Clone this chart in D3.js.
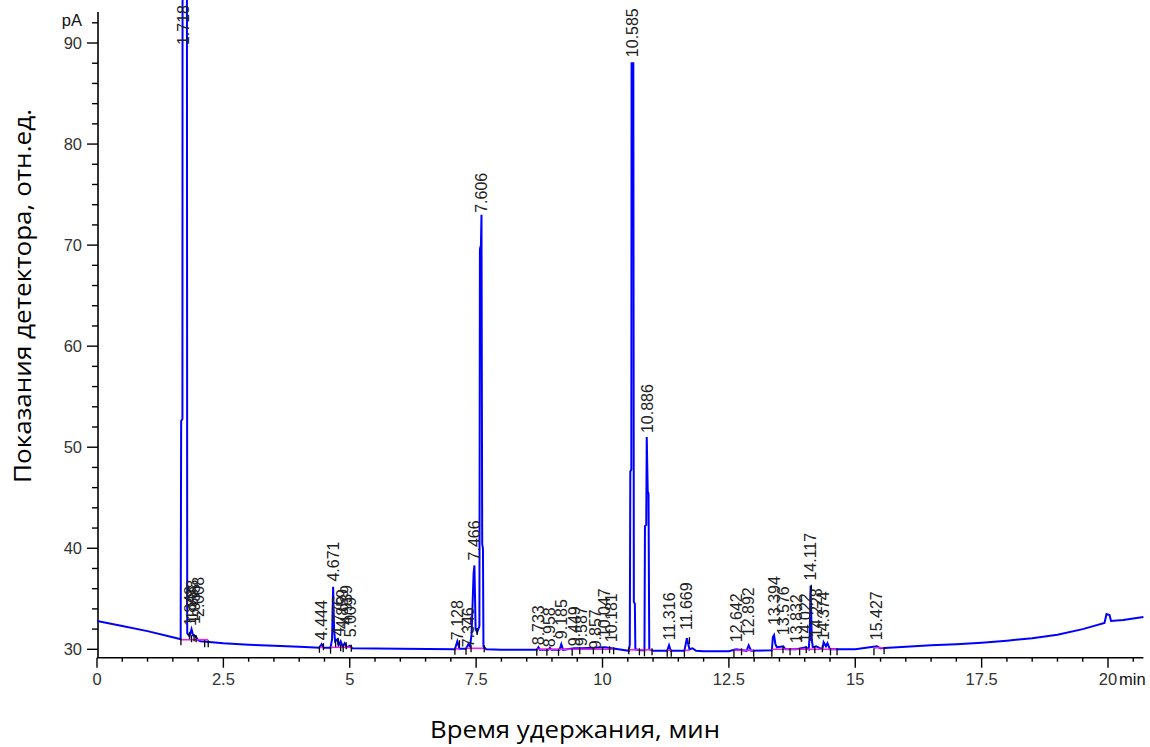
<!DOCTYPE html>
<html>
<head>
<meta charset="utf-8">
<script src="https://cdn.jsdelivr.net/npm/d3@7"></script>
<style>
    body { margin: 0; background: #fff; }
    #chart { width: 1150px; height: 747px; }
    text { font-family: "Liberation Sans", Arial, sans-serif; }
    .title { font-family: "Open Sans", "Noto Sans", sans-serif; }
</style>
</head>
<body>
<div id="chart"></div>
<script>
// retention time (min) / detector signal (pA)
const trace = [
    [0, 32.8], [0.5, 32.3], [1.0, 31.8], [1.5, 31.2], [1.655, 31.0],
    [1.665, 52.6], [1.69, 52.8], [1.695, 140], [1.775, 140], [1.785, 31.6],
    [1.83, 31.3], [1.87, 32.0], [1.9, 31.4], [1.95, 31.3], [2.0, 30.9], [2.05, 30.8],
    [2.5, 30.6], [3.0, 30.45], [3.5, 30.35], [4.0, 30.25], [4.40, 30.15],
    [4.444, 30.5], [4.48, 30.15], [4.62, 30.15], [4.65, 31.0], [4.671, 36.2],
    [4.69, 32.0], [4.71, 30.8], [4.76, 31.0], [4.78, 30.4], [4.82, 30.8],
    [4.86, 30.3], [4.90, 30.6], [4.94, 30.2], [5.0, 30.35], [5.05, 30.1],
    [6.0, 30.05], [7.08, 30.0], [7.128, 30.8], [7.17, 30.05], [7.3, 30.05],
    [7.346, 30.5], [7.38, 30.3], [7.41, 31.5], [7.45, 37.5], [7.466, 38.3],
    [7.49, 32.0], [7.52, 31.7], [7.565, 32.3], [7.575, 69.6], [7.595, 70.0],
    [7.606, 73.0], [7.62, 40.4], [7.635, 40.0], [7.645, 30.3], [7.7, 30.0],
    [8.0, 29.95], [8.70, 29.95], [8.733, 30.2], [8.76, 29.95], [8.93, 29.95],
    [8.958, 30.15], [8.99, 29.95], [9.15, 29.95], [9.185, 30.5], [9.22, 29.95],
    [9.449, 30.1], [9.587, 30.1], [9.857, 30.15], [10.047, 30.2], [10.181, 30.1],
    [10.52, 29.85], [10.54, 30.5], [10.55, 47.6], [10.57, 47.8], [10.575, 88.0],
    [10.61, 88.0], [10.62, 34.7], [10.64, 34.5], [10.65, 30.0], [10.75, 29.9],
    [10.83, 29.9], [10.84, 42.2], [10.865, 42.3], [10.875, 51.0], [10.895, 45.6],
    [10.91, 45.4], [10.925, 30.0], [11.0, 29.85], [11.28, 29.85], [11.316, 30.4],
    [11.35, 29.85], [11.62, 29.85], [11.669, 31.1], [11.72, 30.0], [11.78, 30.1],
    [11.85, 29.85], [12.0, 29.8], [12.5, 29.8], [12.642, 30.0], [12.85, 29.85],
    [12.892, 30.4], [12.94, 29.85], [13.35, 29.9], [13.37, 31.2], [13.394, 31.4],
    [13.42, 30.5], [13.45, 30.2], [13.576, 30.3], [13.62, 30.0], [13.832, 30.0],
    [14.022, 30.2], [14.08, 30.0], [14.10, 31.5], [14.117, 36.3], [14.14, 31.0],
    [14.16, 30.2], [14.228, 30.3], [14.35, 30.0], [14.374, 30.7], [14.42, 30.3],
    [14.45, 30.6], [14.5, 30.0], [15.0, 30.0], [15.427, 30.3], [15.5, 30.1],
    [16.0, 30.25], [16.5, 30.4], [17.0, 30.5], [17.5, 30.65], [18.0, 30.85],
    [18.5, 31.1], [19.0, 31.45], [19.5, 32.0], [19.93, 32.6], [19.97, 33.5],
    [20.03, 33.4], [20.06, 32.8], [20.3, 32.9], [20.7, 33.2]
];

// peak labels: retention time and the signal level where the label starts
const peakTimes  = [1.718, 1.848, 1.888, 1.935, 2.008, 4.444, 4.671, 4.776, 4.859, 4.939, 5.009,
                    7.128, 7.346, 7.466, 7.606, 8.733, 8.958, 9.185, 9.449, 9.587, 9.857, 10.047, 10.181,
                    10.585, 10.886, 11.316, 11.669, 12.642, 12.892, 13.394, 13.576, 13.832, 14.022,
                    14.117, 14.228, 14.374, 15.427];
const peakBase   = [89.8, 32.3, 32.9, 32.5, 33.2, 30.9, 36.7, 31.3, 32.0, 32.4, 31.2,
                    30.9, 30.2, 38.8, 73.2, 30.4, 30.2, 31.0, 30.3, 30.3, 30.0, 31.2, 30.7,
                    88.6, 51.4, 30.9, 31.9, 30.7, 31.3, 32.4, 31.4, 30.6, 30.7,
                    36.8, 31.2, 30.9, 30.9];

// integration baselines (start, end, level) and peak boundary marks
const integration = [[1.66, 2.2, 30.95], [4.40, 4.48, 30.2], [4.62, 5.03, 30.2], [7.08, 7.17, 30.05],
                     [7.30, 7.66, 30.1], [8.70, 10.22, 30.0], [10.52, 10.98, 29.95], [11.28, 11.36, 29.9],
                     [11.62, 11.72, 29.9], [12.60, 12.99, 29.9], [13.35, 14.64, 30.0], [15.37, 15.57, 30.15]];
const marks = [1.66, 1.83, 1.87, 1.92, 1.96, 2.13, 2.20, 4.40, 4.48, 4.62, 4.72, 4.77, 4.82, 4.87,
               4.93, 5.03, 7.08, 7.17, 7.30, 7.40, 7.52, 7.66, 8.70, 8.90, 9.13, 9.40, 9.55, 9.82,
               10.00, 10.14, 10.22, 10.52, 10.73, 10.83, 10.98, 11.28, 11.36, 11.62, 11.72, 12.60,
               12.75, 12.99, 13.35, 13.57, 13.71, 13.90, 14.03, 14.13, 14.20, 14.35, 14.51, 14.64,
               15.37, 15.57];

const xMajor = [0, 2.5, 5, 7.5, 10, 12.5, 15, 17.5, 20];
const yMajor = [30, 40, 50, 60, 70, 80, 90];

class Chromatogram {
    constructor(parentElement) {
        this.parentElement = parentElement;
        this.initVis();
    }

    initVis() {
        let vis = this;
        vis.svg = d3.select("#" + vis.parentElement).append("svg")
            .attr("width", 1150)
            .attr("height", 747);

        vis.x = d3.scaleLinear().domain([0, 20.7]).range([97, 1143.4]);
        vis.y = d3.scaleLinear().domain([29.17, 93.07]).range([657.7, 12]);

        vis.svg.append("clipPath").attr("id", "plot-clip")
            .append("rect")
            .attr("x", 97).attr("y", 0)
            .attr("width", 1050).attr("height", 657);

        vis.drawAxes();
        vis.drawTrace();
        vis.drawLabels();
    }

    drawAxes() {
        let vis = this;

        // x axis: minor ticks every 0.5 min, labelled every 2.5
        let xAxis = vis.svg.append("g").attr("transform", `translate(0, ${vis.y.range()[0]})`);
        xAxis.append("line")
            .attr("x1", vis.x(0)).attr("x2", vis.x(20.7))
            .attr("stroke", "#000").attr("stroke-width", 1.6);
        xAxis.selectAll(".minor")
            .data(d3.range(0, 20.6, 0.5))
            .enter().append("line")
            .attr("x1", d => vis.x(d)).attr("x2", d => vis.x(d))
            .attr("y1", 0).attr("y2", d => xMajor.includes(d) ? 10 : 4)
            .attr("stroke", "#000").attr("stroke-width", 1.4);
        xAxis.selectAll(".lab")
            .data(xMajor)
            .enter().append("text")
            .attr("x", d => vis.x(d)).attr("y", 27)
            .attr("text-anchor", "middle")
            .attr("font-size", 16.5)
            .attr("fill", "#333")
            .text(d => d);
        xAxis.append("text")
            .attr("x", vis.x(20) + 11).attr("y", 27)
            .attr("font-size", 16.5).attr("fill", "#111")
            .text("min");

        // y axis: minor ticks every 2 pA, labelled every 10
        let yAxis = vis.svg.append("g").attr("transform", `translate(${vis.x(0) + 1}, 0)`);
        yAxis.append("line")
            .attr("y1", vis.y.range()[0]).attr("y2", vis.y(93.07))
            .attr("stroke", "#000").attr("stroke-width", 1.6);
        yAxis.selectAll(".minor")
            .data(d3.range(30, 93, 2))
            .enter().append("line")
            .attr("y1", d => vis.y(d)).attr("y2", d => vis.y(d))
            .attr("x1", d => yMajor.includes(d) ? -11 : -6).attr("x2", 0)
            .attr("stroke", "#000").attr("stroke-width", 1.4);
        yAxis.selectAll(".lab")
            .data(yMajor)
            .enter().append("text")
            .attr("x", -16).attr("y", d => vis.y(d))
            .attr("dy", "0.35em")
            .attr("text-anchor", "end")
            .attr("font-size", 16.5)
            .attr("fill", "#333")
            .text(d => d);
        yAxis.append("text")
            .attr("x", -16).attr("y", vis.y(92))
            .attr("dy", "0.2em")
            .attr("text-anchor", "end")
            .attr("font-size", 16.5).attr("fill", "#111")
            .text("pA");

        // axis titles
        vis.svg.append("text")
            .attr("class", "title")
            .attr("transform", "translate(31, 296) rotate(-90)")
            .attr("text-anchor", "middle")
            .attr("font-size", 24)
            .attr("textLength", 374)
            .attr("lengthAdjust", "spacingAndGlyphs")
            .text("Показания детектора, отн.ед.");
        vis.svg.append("text")
            .attr("class", "title")
            .attr("x", 575).attr("y", 738)
            .attr("text-anchor", "middle")
            .attr("font-size", 24)
            .attr("textLength", 290)
            .attr("lengthAdjust", "spacingAndGlyphs")
            .text("Время удержания, мин");
    }

    drawTrace() {
        let vis = this;
        let plot = vis.svg.append("g").attr("clip-path", "url(#plot-clip)");

        let line = d3.line()
            .x(d => vis.x(d[0]))
            .y(d => vis.y(d[1]));

        plot.append("path")
            .datum(trace)
            .attr("d", line)
            .attr("fill", "none")
            .attr("stroke", "#0000ff")
            .attr("stroke-width", 2)
            .attr("stroke-linejoin", "miter");

        plot.selectAll(".integ")
            .data(integration)
            .enter().append("line")
            .attr("x1", d => vis.x(d[0])).attr("x2", d => vis.x(d[1]))
            .attr("y1", d => vis.y(d[2])).attr("y2", d => vis.y(d[2]))
            .attr("stroke", "#ee22ee")
            .attr("stroke-width", 1.6);

        // peak start / end marks below the trace
        let bisect = d3.bisector(d => d[0]).left;
        plot.selectAll(".mark")
            .data(marks)
            .enter().append("line")
            .attr("x1", d => vis.x(d)).attr("x2", d => vis.x(d))
            .attr("y1", d => vis.y(trace[Math.max(0, bisect(trace, d) - 1)][1]) - 1)
            .attr("y2", d => vis.y(trace[Math.max(0, bisect(trace, d) - 1)][1]) + 6)
            .attr("stroke", "#000")
            .attr("stroke-width", 1.3);
    }

    drawLabels() {
        let vis = this;
        vis.svg.append("g")
            .selectAll("text")
            .data(peakTimes)
            .enter().append("text")
            .attr("transform", (d, i) => `translate(${vis.x(d)}, ${vis.y(peakBase[i])}) rotate(-90)`)
            .attr("dy", "0.35em")
            .attr("font-size", 16)
            .attr("fill", "#222")
            .text(d => d3.format(".3f")(d));
    }
}

new Chromatogram("chart");
</script>
</body>
</html>
